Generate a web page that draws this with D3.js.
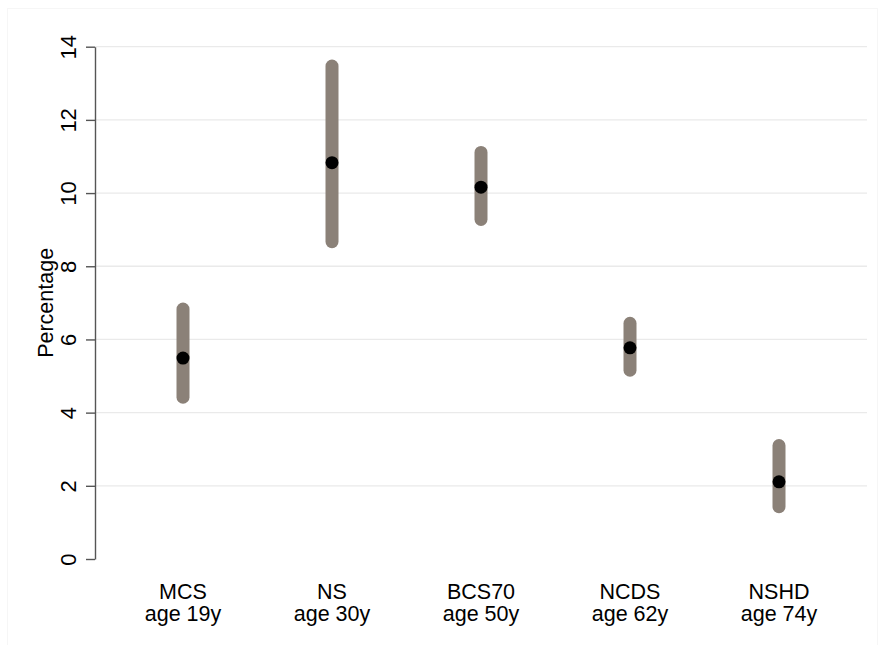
<!DOCTYPE html>
<html>
<head>
<meta charset="utf-8">
<script src="https://cdn.jsdelivr.net/npm/d3@7/dist/d3.min.js"></script>
<style>
  html, body { margin: 0; padding: 0; background: #fff; }
  text { font-family: "Liberation Sans", Arial, sans-serif; fill: #000; }
</style>
</head>
<body>
<svg id="chart" width="878" height="645"></svg>
<script>
// Cohort studies and the age at which each was surveyed
const cohorts = ["MCS", "NS", "BCS70", "NCDS", "NSHD"];
const ages = ["age 19y", "age 30y", "age 50y", "age 62y", "age 74y"];
// Point estimates and 95% confidence limits (percentage)
const estimates = [5.49, 10.83, 10.16, 5.77, 2.11];
const lower = [4.42, 8.67, 9.28, 5.16, 1.43];
const upper = [6.83, 13.47, 11.11, 6.44, 3.10];
const yTicks = [0, 2, 4, 6, 8, 10, 12, 14];

const svg = d3.select("#chart");
const W = 878, H = 645;

// Faint outer frame
svg.append("rect")
  .attr("x", 7.5).attr("y", 8.5)
  .attr("width", W - 8).attr("height", H - 8)
  .attr("fill", "none").attr("stroke", "#f6f6f6").attr("stroke-width", 1);

const y = d3.scaleLinear().domain([0, 14]).range([559, 46.7]);
const x = d3.scalePoint().domain(cohorts).range([183, 779]);

// Horizontal gridlines
svg.append("g").selectAll("line")
  .data(yTicks.filter(d => d > 0))
  .join("line")
  .attr("x1", 95).attr("x2", 867)
  .attr("y1", d => y(d)).attr("y2", d => y(d))
  .attr("stroke", "#eaeaea").attr("stroke-width", 1.3);

// Y axis
const yAxis = svg.append("g")
  .attr("transform", "translate(95,0)")
  .call(d3.axisLeft(y).tickValues(yTicks).tickSize(9).tickSizeOuter(0).tickPadding(0));
yAxis.select(".domain").attr("stroke", "#555").attr("stroke-width", 1.4);
yAxis.selectAll(".tick line").attr("stroke", "#555").attr("stroke-width", 1.4);
yAxis.selectAll(".tick text")
  .attr("transform", "translate(-27,0) rotate(-90)")
  .attr("x", 0).attr("dy", "0.35em")
  .attr("text-anchor", "middle")
  .style("font-size", "22px");

// Y axis title
svg.append("text")
  .attr("transform", `translate(53,${y(7)}) rotate(-90)`)
  .attr("text-anchor", "middle")
  .style("font-size", "21.5px")
  .text("Percentage");

// Category labels (two lines)
const cats = svg.append("g").selectAll("text")
  .data(cohorts)
  .join("text")
  .attr("text-anchor", "middle")
  .style("font-size", "21.5px");
cats.append("tspan").attr("x", d => x(d)).attr("y", 599).text(d => d);
cats.append("tspan").attr("x", d => x(d)).attr("y", 621).text((d, i) => ages[i]);

// Confidence interval bars
svg.append("g").selectAll("line")
  .data(cohorts)
  .join("line")
  .attr("x1", d => x(d)).attr("x2", d => x(d))
  .attr("y1", (d, i) => y(lower[i])).attr("y2", (d, i) => y(upper[i]))
  .attr("stroke", "#8b8178").attr("stroke-width", 13)
  .attr("stroke-linecap", "round");

// Point estimates
svg.append("g").selectAll("circle")
  .data(cohorts)
  .join("circle")
  .attr("cx", d => x(d))
  .attr("cy", (d, i) => y(estimates[i]))
  .attr("r", 6.5)
  .attr("fill", "#000");
</script>
</body>
</html>
